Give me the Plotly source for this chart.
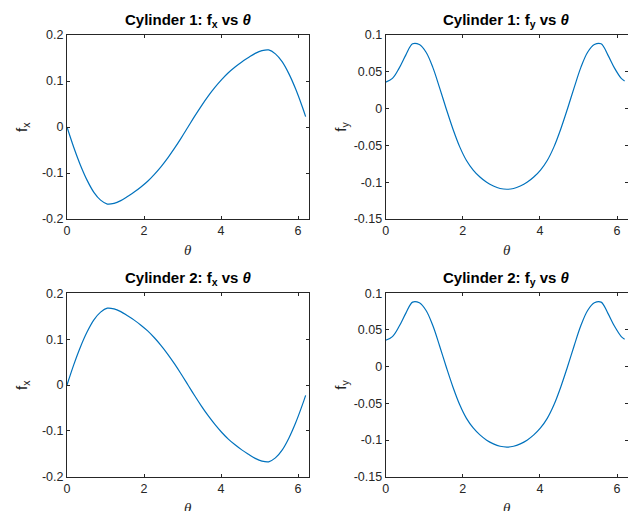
import math
import plotly.graph_objects as go

# Sample angles (degrees) at which the force components were tabulated
theta_deg = [0, 10, 20, 30, 40, 50, 60, 70, 80, 90, 100, 110, 120, 130, 140, 150,
             160, 170, 180, 190, 200, 210, 220, 230, 240, 250, 260, 270, 280,
             290, 300, 310, 320, 330, 340, 350, 355]

# Cylinder 1 force components
fx_cyl1 = [0.0, -0.044, -0.083, -0.116, -0.142, -0.159, -0.1675, -0.166, -0.160,
           -0.151, -0.1415, -0.1305, -0.118, -0.103, -0.086, -0.067, -0.046, -0.0235,
           0.0, 0.0235, 0.046, 0.067, 0.086, 0.103, 0.118, 0.1305, 0.1415, 0.151,
           0.160, 0.166, 0.1675, 0.159, 0.142, 0.116, 0.083, 0.044, 0.0225]
fy_cyl1 = [0.0360, 0.0410, 0.0550, 0.0730, 0.0880, 0.0870, 0.0765, 0.0560, 0.0285,
           -0.0005, -0.0280, -0.0520, -0.0705, -0.0835, -0.0930, -0.1002, -0.1052,
           -0.1085, -0.1096, -0.1085, -0.1052, -0.1002, -0.0930, -0.0835, -0.0705,
           -0.0520, -0.0280, -0.0005, 0.0285, 0.0560, 0.0765, 0.0870, 0.0880,
           0.0730, 0.0550, 0.0410, 0.0375]

# Cylinder 2 force components
fx_cyl2 = [0.0, 0.044, 0.083, 0.116, 0.142, 0.159, 0.1675, 0.166, 0.160,
           0.151, 0.1415, 0.1305, 0.118, 0.103, 0.086, 0.067, 0.046, 0.0235,
           0.0, -0.0235, -0.046, -0.067, -0.086, -0.103, -0.118, -0.1305, -0.1415,
           -0.151, -0.160, -0.166, -0.1675, -0.159, -0.142, -0.116, -0.083,
           -0.044, -0.0225]
fy_cyl2 = [0.0360, 0.0410, 0.0550, 0.0730, 0.0880, 0.0870, 0.0765, 0.0560, 0.0285,
           -0.0005, -0.0280, -0.0520, -0.0705, -0.0835, -0.0930, -0.1002, -0.1052,
           -0.1085, -0.1096, -0.1085, -0.1052, -0.1002, -0.0930, -0.0835, -0.0705,
           -0.0520, -0.0280, -0.0005, 0.0285, 0.0560, 0.0765, 0.0870, 0.0880,
           0.0730, 0.0550, 0.0410, 0.0375]

# Axis ticks
x_ticks = [0, 2, 4, 6]
x_ticktext = ["0", "2", "4", "6"]
fx_ticks = [-0.2, -0.1, 0, 0.1, 0.2]
fx_ticktext = ["-0.2", "-0.1", "0", "0.1", "0.2"]
fy_ticks = [-0.15, -0.1, -0.05, 0, 0.05, 0.1]
fy_ticktext = ["-0.15", "-0.1", "-0.05", "0", "0.05", "0.1"]

panels = [
    # (x-extent px, y-extent px (top, bottom), data, y-range, ticks, title, ylabel)
    ((67, 309), (35, 219), fx_cyl1, [-0.2, 0.2], (fx_ticks, fx_ticktext),
     "Cylinder 1: f<sub>x</sub> vs <i>θ</i>", "f<sub>x</sub>"),
    ((385.7, 628), (35, 219), fy_cyl1, [-0.15, 0.1], (fy_ticks, fy_ticktext),
     "Cylinder 1: f<sub>y</sub> vs <i>θ</i>", "f<sub>y</sub>"),
    ((67, 309), (293.3, 476.7), fx_cyl2, [-0.2, 0.2], (fx_ticks, fx_ticktext),
     "Cylinder 2: f<sub>x</sub> vs <i>θ</i>", "f<sub>x</sub>"),
    ((385.7, 628), (293.3, 476.7), fy_cyl2, [-0.15, 0.1], (fy_ticks, fy_ticktext),
     "Cylinder 2: f<sub>y</sub> vs <i>θ</i>", "f<sub>y</sub>"),
]

W, H = 628, 511
theta = [math.radians(d) for d in theta_deg]

AX_COLOR = "#262626"
LINE_COLOR = "#0072BD"
FONT = "Liberation Sans, Arial, Helvetica, sans-serif"

fig = go.Figure()
annotations = []
layout_axes = {}

for i, (xd, yd, vals, yr, (yt, ytt), title, ylab) in enumerate(panels, start=1):
    xa = "x" if i == 1 else f"x{i}"
    ya = "y" if i == 1 else f"y{i}"
    fig.add_trace(go.Scatter(
        x=theta, y=vals, xaxis=xa, yaxis=ya, mode="lines",
        line=dict(color=LINE_COLOR, width=1.2, shape="spline", smoothing=1.0),
        showlegend=False, hoverinfo="skip",
    ))
    x0, x1 = xd[0] / W, min(xd[1] / W, 1.0)
    y_top, y_bot = 1 - yd[0] / H, 1 - yd[1] / H
    common = dict(
        showline=True, linecolor=AX_COLOR, linewidth=1, mirror="ticks",
        ticks="inside", ticklen=3, tickwidth=1, tickcolor=AX_COLOR,
        showgrid=False, zeroline=False,
        tickfont=dict(family=FONT, size=12.5, color=AX_COLOR),
    )
    layout_axes["xaxis" if i == 1 else f"xaxis{i}"] = dict(
        domain=[x0, x1], range=[0, 2 * math.pi], anchor=ya,
        tickmode="array", tickvals=x_ticks, ticktext=x_ticktext,
        **common)
    layout_axes["yaxis" if i == 1 else f"yaxis{i}"] = dict(
        domain=[y_bot, y_top], range=yr, anchor=xa,
        tickmode="array", tickvals=yt, ticktext=ytt,
        **common)

    xc = (x0 + x1) / 2
    # panel title
    annotations.append(dict(
        text=f"<b>{title}</b>", x=xc, y=y_top + 15 / H, xref="paper", yref="paper",
        xanchor="center", yanchor="middle", showarrow=False,
        font=dict(family=FONT, size=15, color="#000000"),
    ))
    # y label
    annotations.append(dict(
        text=ylab, x=(xd[0] - 45) / W, y=(y_top + y_bot) / 2, xref="paper", yref="paper",
        xanchor="center", yanchor="middle", showarrow=False, textangle=-90,
        font=dict(family=FONT, size=15, color=AX_COLOR),
    ))
    # x label
    annotations.append(dict(
        text="<i>θ</i>", x=xc, y=y_bot - 31 / H, xref="paper", yref="paper",
        xanchor="center", yanchor="middle", showarrow=False,
        font=dict(family="Liberation Serif, Times New Roman, serif", size=15, color=AX_COLOR),
    ))

fig.update_layout(
    width=W, height=H,
    margin=dict(l=0, r=0, t=0, b=0, autoexpand=False),
    paper_bgcolor="white", plot_bgcolor="white",
    annotations=annotations,
    **layout_axes,
)

fig.write_html("out.html")
